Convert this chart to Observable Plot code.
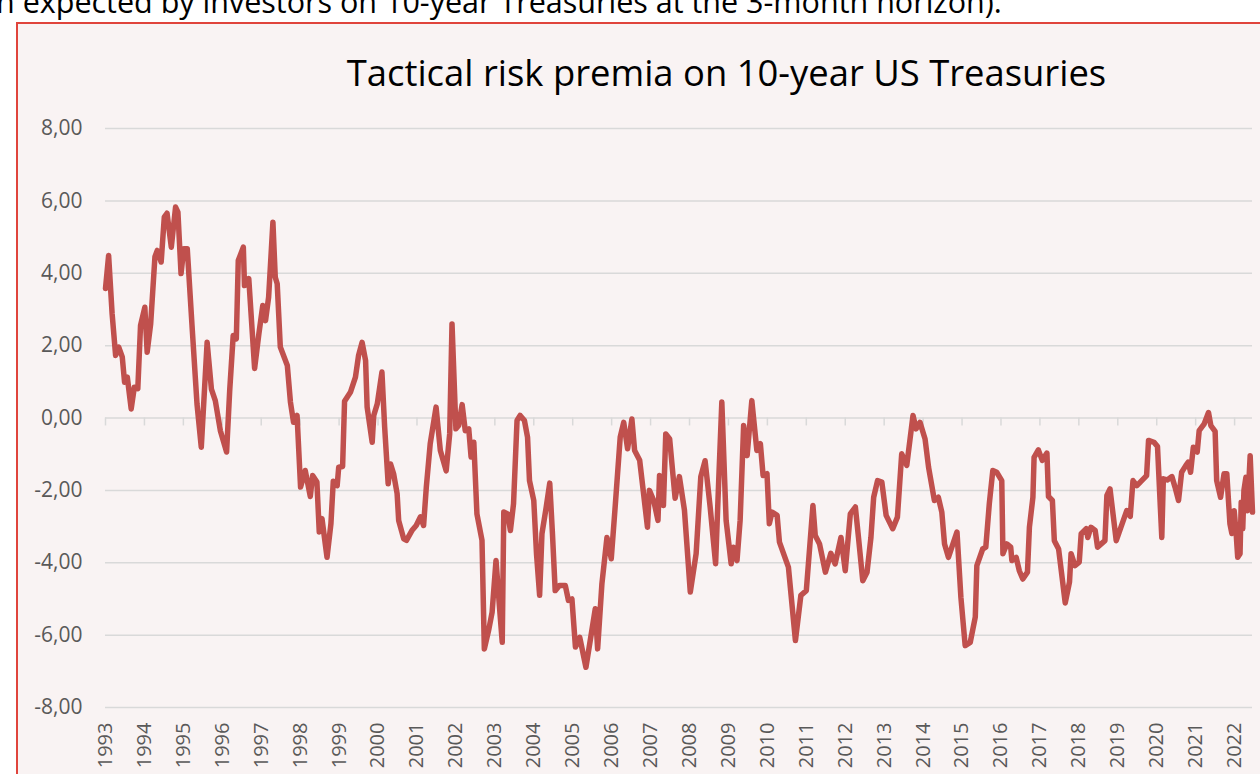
<!DOCTYPE html>
<html>
<head>
<meta charset="utf-8">
<script src="https://cdn.jsdelivr.net/npm/d3@7"></script>
<script src="https://cdn.jsdelivr.net/npm/@observablehq/plot@0.6"></script>
<style>
  html, body { margin: 0; padding: 0; background: #ffffff; overflow: hidden; width: 1260px; height: 774px; }
  #lead { position: absolute; left: -4px; top: -14px; font-family: "Open Sans", sans-serif; font-size: 30.5px; line-height: 30px; color: #000; white-space: nowrap; }
  #box { position: absolute; left: 16px; top: 22px; width: 1420px; height: 800px; border: 2px solid #e0443c; background: #f9f3f3; }
  #title { position: absolute; left: 0; width: 1453px; top: 47px; text-align: center; font-family: "Open Sans", sans-serif; font-size: 36.4px; color: #000; white-space: nowrap; }
  #chart { position: absolute; left: 18px; top: 24px; }
</style>
</head>
<body>
<div id="lead">n expected by investors on 10-year Treasuries at the 3-month horizon).</div>
<div id="box"></div>
<div id="title">Tactical risk premia on 10-year US Treasuries</div>
<div id="chart"></div>
<script>
const dates = [
1993.00,1993.08,1993.17,1993.26,1993.34,1993.43,1993.49,1993.56,1993.66,1993.74,1993.83,1993.90,
1994.01,1994.07,1994.16,1994.27,1994.33,1994.43,1994.51,1994.58,1994.69,1994.80,1994.86,1994.94,
1995.01,1995.10,1995.23,1995.35,1995.46,1995.61,1995.72,1995.82,1995.95,
1996.11,1996.19,1996.28,1996.36,1996.41,1996.54,1996.57,1996.68,1996.83,1996.94,
1997.04,1997.11,1997.19,1997.30,1997.36,1997.41,1997.49,1997.67,1997.75,1997.83,1997.92,
1998.01,1998.13,1998.26,1998.32,1998.43,1998.49,1998.56,1998.69,1998.79,1998.85,1998.95,1998.99,
1999.09,1999.14,1999.29,1999.42,1999.50,1999.59,1999.68,1999.72,1999.85,1999.89,1999.98,
2000.10,2000.17,2000.26,2000.32,2000.40,2000.49,2000.53,2000.66,2000.73,2000.87,2000.98,
2001.09,2001.17,2001.24,2001.34,2001.49,2001.60,2001.75,2001.84,2001.90,
2002.00,2002.07,2002.16,2002.24,2002.33,2002.39,2002.46,2002.54,2002.67,2002.73,2002.84,2002.93,
2003.03,2003.12,2003.19,2003.23,2003.33,2003.40,2003.48,2003.57,2003.65,2003.76,2003.84,2003.89,
2004.00,2004.07,2004.15,2004.21,2004.32,2004.41,2004.48,2004.55,2004.66,2004.81,2004.89,2004.98,
2005.07,2005.18,2005.34,2005.45,2005.58,2005.64,2005.75,2005.88,2005.99,
2006.09,2006.22,2006.31,2006.41,2006.52,2006.59,2006.72,2006.82,2006.92,2006.97,
2007.08,2007.19,2007.23,2007.33,2007.39,2007.49,2007.63,2007.74,2007.87,
2008.02,2008.17,2008.29,2008.40,2008.53,2008.67,2008.75,2008.83,2008.94,
2009.07,2009.13,2009.22,2009.30,2009.39,2009.48,2009.60,2009.73,2009.82,2009.89,2009.99,
2010.05,2010.12,2010.25,2010.31,2010.54,2010.72,2010.86,
2011.00,2011.17,2011.23,2011.34,2011.49,2011.63,2011.74,2011.89,
2012.00,2012.13,2012.26,2012.34,2012.45,2012.56,2012.66,2012.73,2012.83,2012.94,
2013.05,2013.22,2013.34,2013.45,2013.58,2013.74,2013.82,2013.92,
2014.05,2014.14,2014.29,2014.39,2014.48,2014.55,2014.65,2014.87,2014.97,
2015.08,2015.21,2015.34,2015.38,2015.53,2015.61,2015.70,2015.79,2015.89,
2016.02,2016.05,2016.15,2016.25,2016.28,2016.39,2016.47,2016.56,2016.68,2016.73,2016.82,2016.85,2016.96,
2017.06,2017.18,2017.22,2017.32,2017.37,2017.48,2017.65,2017.76,2017.80,2017.90,
2018.01,2018.06,2018.19,2018.23,2018.31,2018.42,2018.48,2018.67,2018.72,2018.80,2018.96,
2019.23,2019.32,2019.39,2019.49,2019.74,2019.79,2019.93,
2020.02,2020.13,2020.17,2020.27,2020.39,2020.47,2020.56,2020.64,2020.75,2020.81,2020.87,2020.94,
2021.04,2021.09,2021.22,2021.33,2021.39,2021.50,2021.54,2021.64,2021.73,2021.80,2021.88,2021.93,2021.99,
2022.04,2022.08,2022.14,2022.17,2022.21,2022.24,2022.29,2022.33,2022.40,2022.46
];
const values = [
3.58,4.49,2.88,1.73,1.96,1.69,0.99,1.13,0.25,0.85,0.81,2.56,
3.06,1.82,2.60,4.46,4.63,4.31,5.55,5.66,4.72,5.83,5.69,3.99,
4.68,4.68,2.42,0.39,-0.81,2.09,0.80,0.48,-0.35,
-0.94,0.76,2.28,2.19,4.35,4.72,3.66,3.85,1.37,2.33,
3.11,2.69,3.34,5.41,3.89,3.71,1.96,1.45,0.44,-0.12,0.07,
-1.91,-1.45,-2.17,-1.59,-1.77,-3.15,-2.78,-3.85,-2.92,-1.75,-1.87,-1.36,
-1.34,0.46,0.71,1.13,1.73,2.09,1.59,0.30,-0.67,0.07,0.39,
1.27,-0.25,-1.82,-1.27,-1.54,-2.09,-2.83,-3.34,-3.38,-3.11,-2.97,
-2.73,-2.97,-1.91,-0.71,0.30,-0.90,-1.46,-0.44,2.60,
-0.30,-0.21,0.37,-0.35,-0.30,-1.08,-0.67,-2.65,-3.38,-6.38,-5.87,-5.37,
-3.94,-5.23,-6.20,-2.60,-2.65,-3.11,-2.37,-0.07,0.07,-0.07,-0.53,-1.73,
-2.28,-3.75,-4.90,-3.20,-2.46,-1.80,-3.20,-4.77,-4.63,-4.63,-5.04,-5.00,
-6.33,-6.06,-6.89,-6.15,-5.27,-6.38,-4.58,-3.30,-3.89,
-2.46,-0.53,-0.12,-0.85,-0.03,-0.90,-1.17,-2.09,-3.02,-2.00,
-2.28,-2.83,-1.59,-2.42,-0.44,-0.58,-2.22,-1.62,-2.55,
-4.81,-3.75,-1.62,-1.18,-2.46,-4.03,-1.73,0.44,-2.83,
-4.03,-3.57,-3.94,-2.83,-0.21,-1.04,0.48,-0.90,-0.71,-1.59,-1.54,
-2.92,-2.60,-2.69,-3.43,-4.12,-6.15,-4.90,
-4.77,-2.42,-3.25,-3.48,-4.26,-3.74,-4.03,-3.30,
-4.22,-2.65,-2.46,-3.30,-4.50,-4.26,-3.30,-2.19,-1.73,-1.77,
-2.69,-3.06,-2.74,-0.99,-1.31,0.07,-0.30,-0.12,
-0.58,-1.36,-2.28,-2.19,-2.60,-3.48,-3.85,-3.15,-4.95,
-6.29,-6.20,-5.50,-4.08,-3.62,-3.57,-2.37,-1.45,-1.50,
-1.73,-3.75,-3.48,-3.57,-3.94,-3.85,-4.22,-4.45,-4.26,-3.02,-2.19,-1.09,-0.88,
-1.17,-0.97,-2.17,-2.28,-3.39,-3.62,-5.11,-4.53,-3.75,-4.08,
-3.98,-3.20,-3.06,-3.30,-3.02,-3.11,-3.57,-3.39,-2.14,-1.96,-3.39,
-2.56,-2.72,-1.73,-1.87,-1.59,-0.62,-0.67,
-0.79,-3.30,-1.68,-1.71,-1.62,-1.91,-2.28,-1.50,-1.31,-1.22,-1.50,-0.81,
-0.94,-0.35,-0.16,0.15,-0.21,-0.37,-1.73,-2.19,-1.54,-1.54,-2.92,-3.19,-2.56,
-3.19,-3.85,-3.75,-2.33,-3.06,-2.00,-1.64,-2.56,-1.04,-2.60
];
const years = [1993,1994,1995,1996,1997,1998,1999,2000,2001,2002,2003,2004,2005,2006,2007,
  2008,2009,2010,2011,2012,2013,2014,2015,2016,2017,2018,2019,2020,2021,2022];
const yTicks = [-8,-6,-4,-2,0,2,4,6,8];

const data = dates.map((d, i) => ({date: d, value: values[i]}));

const chart = Plot.plot({
  width: 1242,
  height: 750,
  marginLeft: 87,
  marginRight: 8,
  marginTop: 104,
  marginBottom: 67,
  style: {background: "transparent", fontFamily: "'Open Sans', sans-serif", color: "#595959"},
  x: {domain: [1993, d3.max(dates)], ticks: years, tickFormat: d => String(d)},
  y: {domain: [-8, 8], ticks: yTicks},
  marks: [
    Plot.gridY(yTicks, {stroke: "#d9d9d9", strokeOpacity: 1, strokeWidth: 1.5}),
    Plot.ruleX(years, {x: d => d, y1: 0, y2: -0.22, stroke: "#d9d9d9", strokeWidth: 1.5}),
    Plot.axisY(yTicks, {tickSize: 0, tickPadding: 23, fontSize: 21, fill: "#595959",
      tickFormat: d => d.toFixed(2).replace(".", ","), label: null}),
    Plot.axisX(years, {tickSize: 0, tickPadding: 15, tickRotate: -90, fontSize: 20, fill: "#595959",
      tickFormat: d => String(d), label: null}),
    Plot.line(data, {x: "date", y: "value", stroke: "#c0504d", strokeWidth: 5.5, strokeLinejoin: "round", strokeLinecap: "round"})
  ]
});
document.getElementById("chart").appendChild(chart);
</script>
</body>
</html>
